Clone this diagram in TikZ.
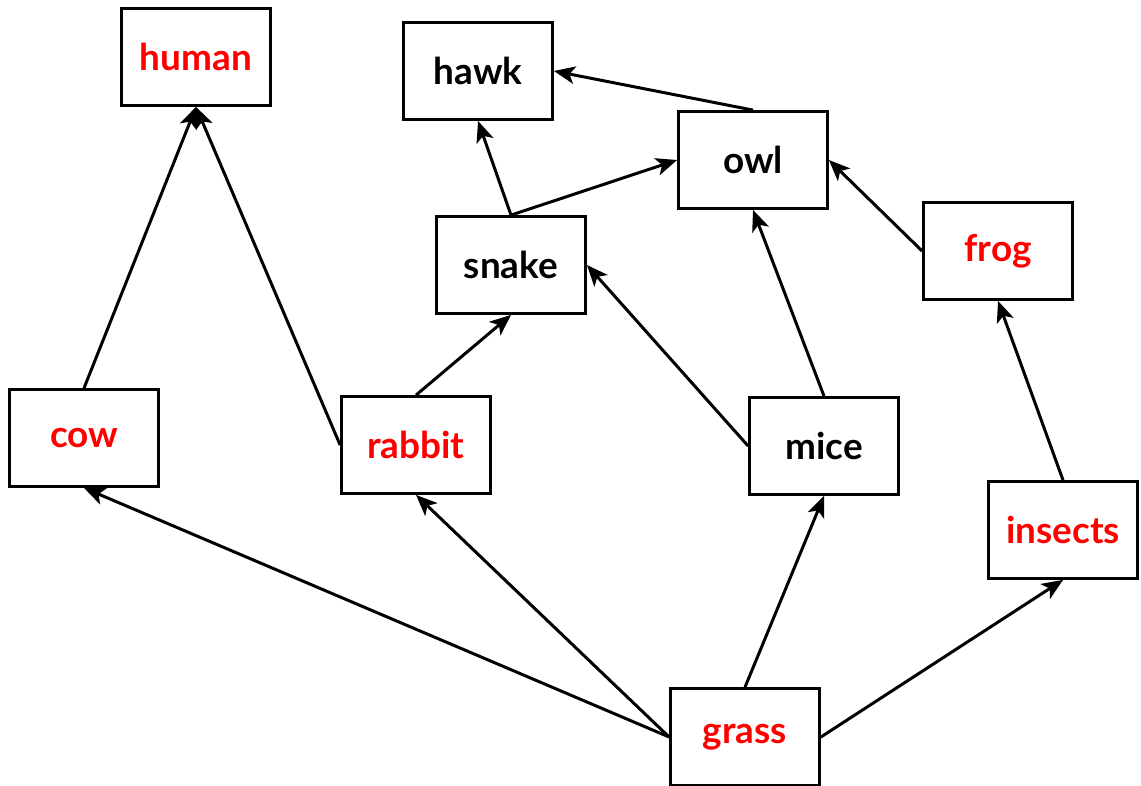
\documentclass[tikz,border=0pt]{standalone}
\usepackage{fontspec}
\setmainfont{Lato}
\usepackage{xcolor}
\usepackage{tikz}
\usetikzlibrary{arrows.meta}

\begin{document}
\begin{tikzpicture}[x=0.02cm,y=-0.02cm,
            box/.style={draw=black,line width=1.6pt,fill=white,minimum width=2.98cm,minimum height=1.94cm,font=\fontsize{21}{24}\selectfont\bfseries},
            eats/.style={line width=1.7pt,-{Stealth[length=12pt,width=10pt,inset=3pt]}}]
            \useasboundingbox (0,0) rectangle (1141,785);
            % the boxes
            \node[box,text=red] (human) at (196,57) {human};
            \node[box] (hawk) at (478,71) {hawk};
            \node[box] (owl) at (753,160) {owl};
            \node[box] (snake) at (511,265) {snake};
            \node[box,text=red] (frog) at (998,251) {frog};
            \node[box,text=red] (cow) at (84,438) {cow};
            \node[box,text=red] (rabbit) at (416,445) {rabbit};
            \node[box] (mice) at (824,446) {mice};
            \node[box,text=red] (insects) at (1063,530) {insects};
            \node[box,text=red] (grass) at (745,737) {grass};
            % who is eaten by whom
            \draw [eats] (cow.north) -- (human.south);
            \draw [eats] (rabbit.west) -- (human.south);
            \draw [eats] (rabbit.north) -- (snake.south);
            \draw [eats] (snake.north) -- (hawk.south);
            \draw [eats] (snake.north) -- (owl.west);
            \draw [eats] (owl.north) -- (hawk.east);
            \draw [eats] (mice.north) -- (owl.south);
            \draw [eats] (mice.west) -- (snake.east);
            \draw [eats] (frog.west) -- (owl.east);
            \draw [eats] (insects.north) -- (frog.south);
            \draw [eats] (grass.west) -- (cow.south);
            \draw [eats] (grass.west) -- (rabbit.south);
            \draw [eats] (grass.north) -- (mice.south);
            \draw [eats] (grass.east) -- (insects.south);
        \end{tikzpicture}
\end{document}
